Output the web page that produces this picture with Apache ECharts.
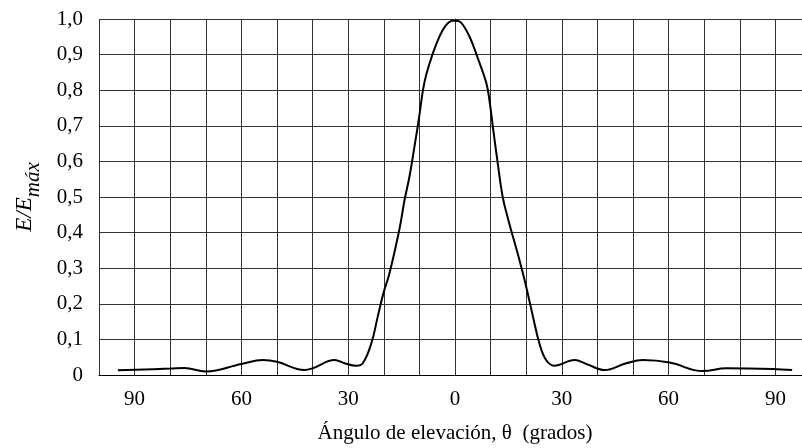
<!DOCTYPE html>
<html>
<head>
<meta charset="utf-8">
<script src="https://cdn.jsdelivr.net/npm/echarts@6/dist/echarts.min.js"></script>
<style>
	html, body { margin: 0; padding: 0; background: #fff; }
	#chart { width: 802px; height: 448px; }
</style>
</head>
<body>
<div id="chart"></div>
<script>
// angle (degrees) and normalised field strength
var angles = [-94.7, -80, -76, -70, -60, -54, -50, -42.3, -40, -33.8, -31, -27.8, -25.9, -23.5, -21.7, -20.1, -18.4, -15.6, -14.2, -12.8, -11.4, -10.2, -9, -8.1, -6.2, -4.4, -2.5, -0.6, 0, 1.7, 4.1, 6.4, 8.8, 9.7, 10.6, 12, 13.4, 15, 18.1, 20, 21.9, 23.7, 25.6, 27.9, 33.6, 36.9, 42, 48.1, 52.8, 60.3, 69.6, 76.2, 89.3, 94.7];
var values = [0.013, 0.018, 0.02, 0.01, 0.031, 0.042, 0.037, 0.014, 0.019, 0.042, 0.033, 0.026, 0.033, 0.089, 0.164, 0.23, 0.286, 0.41, 0.49, 0.557, 0.641, 0.716, 0.8, 0.843, 0.904, 0.95, 0.983, 0.995, 0.995, 0.99, 0.95, 0.89, 0.82, 0.77, 0.7, 0.595, 0.5, 0.435, 0.323, 0.248, 0.164, 0.089, 0.042, 0.026, 0.042, 0.031, 0.014, 0.033, 0.042, 0.035, 0.011, 0.019, 0.017, 0.014];
var xLabelStep = 30;

var font = '"Liberation Serif", "DejaVu Serif", serif';
var gridLine = { show: true, lineStyle: { color: '#333', width: 1 } };

var chart = echarts.init(document.getElementById('chart'));
chart.setOption({
	backgroundColor: '#fff',
	animation: false,
	// the plot runs past the right edge of the picture, as in the original
	grid: { left: 99, top: 19, width: 712, height: 356, outerBoundsMode: 'none', containLabel: false },
	xAxis: {
		type: 'value', min: -100, max: 100, interval: 10,
		axisLine: { show: true, lineStyle: { color: '#000', width: 1 } },
		axisTick: { show: false },
		splitLine: gridLine,
		axisLabel: {
			margin: 14, color: '#000', fontFamily: font, fontSize: 21,
			formatter: function(v) { return v % xLabelStep === 0 && Math.abs(v) < 100 ? String(Math.abs(v)) : ''; }
		},
		name: 'Ángulo de elevación, θ  (grados)',
		nameLocation: 'middle', nameGap: 48,
		nameTextStyle: { color: '#000', fontFamily: font, fontSize: 21 }
	},
	yAxis: {
		type: 'value', min: 0, max: 1, interval: 0.1,
		axisLine: { show: true, lineStyle: { color: '#333', width: 1 } },
		axisTick: { show: false },
		splitLine: gridLine,
		axisLabel: {
			margin: 16, color: '#000', fontFamily: font, fontSize: 21,
			formatter: function(v) { return v === 0 ? '0' : v.toFixed(1).replace('.', ','); }
		},
		name: '{a|E/E}{s|máx}',
		nameLocation: 'middle', nameGap: 58, nameRotate: 90,
		nameTextStyle: {
			color: '#000', fontFamily: font,
			rich: {
				a: { fontFamily: font, fontStyle: 'italic', fontSize: 23, color: '#000', lineHeight: 24, padding: [0, 0, 8, 0] },
				s: { fontFamily: font, fontStyle: 'italic', fontSize: 21, color: '#000', lineHeight: 24, padding: [8, 0, 0, 0] }
			}
		}
	},
	series: [{
		type: 'line',
		data: angles.map(function(a, i) { return [a, values[i]]; }),
		smooth: 0.4,
		showSymbol: false,
		lineStyle: { color: '#000', width: 2 }
	}]
});
</script>
</body>
</html>
